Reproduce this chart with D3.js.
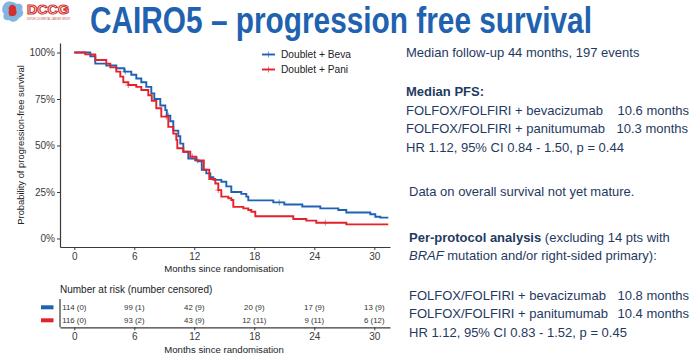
<!DOCTYPE html>
<html><head><meta charset="utf-8">
<script src="https://cdn.jsdelivr.net/npm/d3@7"></script>
<style>
html,body{margin:0;padding:0;background:#fff;}
svg{display:block;font-family:"Liberation Sans",Arial,sans-serif;}
</style></head>
<body>
<svg id="c" width="693" height="357"></svg>
<script>
// ---- data ----
const seriesNames = ["Doublet + Beva", "Doublet + Pani"];
const seriesColors = ["#1f62b4", "#e3222b"];
const bevaTimes = [0,1.6,2.1,3.2,4.2,5.0,5.7,6.2,6.7,7.2,7.7,8.0,8.6,9.1,9.25,9.6,9.9,10.4,10.6,10.9,11.4,12.1,12.4,12.75,13.2,13.6,13.9,14.7,15.2,15.7,16.7,17.2,17.4,19.9,21.0,22.8,24.6,26.4,27.2,29.6,30.1,30.6,31.4];
const bevaSurv  = [100,98,94,93,91.5,89.7,88,86,84,81.5,78,75,71.5,69,66,63,58,55,51,46.6,43,42,41.5,37,35,33,31.5,30.5,28,25,24,22.5,20.5,19.4,18.3,17.2,16.2,15.3,14.0,13.0,11.7,11.2,11.2];
const paniTimes = [0,1.1,2.1,3.2,3.6,4.2,4.6,4.9,5.4,6.2,6.7,7.4,7.75,8.2,8.7,9.4,9.9,10.2,10.3,10.9,11.6,12.2,12.95,13.5,14.1,14.4,14.7,15.4,15.7,15.9,16.9,17.4,17.7,18.1,21.9,23.2,24.2,27.2,31.4];
const paniSurv  = [100,99,96,94,92,89.7,87,84,82.5,81.5,79.8,77,74,70,65.5,60,56.4,53,48.5,46.6,44,42,37,32,29.6,26,22.5,21.6,20.7,17,16.2,15.3,14.4,12.0,10.5,9.6,8.5,7.6,7.6];
const bevaCensor = [5.1, 9.4, 12.3, 20.5];
const paniCensor = [5.4, 9.2, 11.8, 14.4, 25.1];
const monthTicks = [0, 6, 12, 18, 24, 30];
const pctTicks = [0, 25, 50, 75, 100];
const pctLabels = ["0%", "25%", "50%", "75%", "100%"];
const bevaAtRisk = [114, 99, 42, 20, 17, 13];
const bevaCensored = [0, 1, 9, 9, 9, 9];
const paniAtRisk = [116, 93, 43, 12, 9, 6];
const paniCensored = [0, 2, 9, 11, 11, 12];

const svg = d3.select("#c");
const axisCol = "#3a3a3a";
const textCol = "#1f3a5f";

// ---- title + logo ----
const logo = svg.append("g");
logo.append("path").attr("d","M5,3 C9,0 14,2 17,4 C21,3 24,6 22,10 C25,13 22,17 19,18 C17,22 12,23 9,20 C5,21 2,18 4,14 C1,11 2,6 5,3Z")
  .attr("fill","#6fa8dc").attr("opacity",0.85);
logo.append("path").attr("d","M11,5 C14,4 17,7 16,10 C18,13 15,17 12,16 C9,17 8,13 9,10 C8,8 9,6 11,5Z").attr("fill","#d0312d");
logo.append("text").attr("x",27).attr("y",14).attr("font-size",13).attr("font-weight","bold")
  .attr("fill","#fff").attr("stroke","#d0312d").attr("stroke-width",1.1)
  .attr("textLength",42).attr("lengthAdjust","spacingAndGlyphs").text("DCCG");
logo.append("text").attr("x",27).attr("y",19.5).attr("font-size",3.2).attr("fill","#c0392b")
  .attr("textLength",43).attr("lengthAdjust","spacingAndGlyphs").text("DUTCH COLORECTAL CANCER GROUP");

const titleG = svg.append("g").attr("transform","translate(90,33.3) scale(0.817,1)");
const titleT = titleG.append("text").attr("x",0).attr("y",0).attr("font-size",36.5).attr("font-weight","bold")
  .attr("fill","#2062b0").text("CAIRO5 \u2013 progression free survival");
// fit the title width to 502px
const tw = titleT.node().getComputedTextLength();
if (tw > 0) titleG.attr("transform",`translate(90,33.3) scale(${502/tw},1)`);

// ---- KM plot ----
const x = d3.scaleLinear().domain([-1.43, 31.57]).range([60, 390]);
const y = d3.scaleLinear().domain([-0.0457, 1.051]).range([247, 43]);

const gx = svg.append("g").attr("transform","translate(0,247)")
  .call(d3.axisBottom(x).tickValues(monthTicks).tickSize(3).tickPadding(3).tickSizeOuter(0));
const gy = svg.append("g").attr("transform","translate(60,0)")
  .call(d3.axisLeft(y).tickValues(pctTicks.map(d=>d/100)).tickFormat((d,i)=>pctLabels[i]).tickSize(3).tickPadding(2).tickSizeOuter(0));
[gx,gy].forEach(g=>{
  g.select(".domain").attr("stroke",axisCol).attr("stroke-width",1.2);
  g.selectAll(".tick line").attr("stroke",axisCol);
  g.selectAll(".tick text").attr("fill","#3a3a3a").attr("font-size",10).attr("font-family","Liberation Sans, Arial, sans-serif");
});
svg.append("text").attr("x",224).attr("y",272).attr("text-anchor","middle").attr("font-size",9.6).attr("fill","#222")
  .text("Months since randomisation");
svg.append("text").attr("transform","translate(24,145) rotate(-90)").attr("text-anchor","middle")
  .attr("font-size",9.4).attr("fill","#222").text("Probability of progression-free survival");

const line = d3.line().x(d=>x(d[0])).y(d=>y(d[1]/100)).curve(d3.curveStepAfter);
const series = [
  {t:bevaTimes, s:bevaSurv, c:bevaCensor},
  {t:paniTimes, s:paniSurv, c:paniCensor}
];
series.forEach((sr,i)=>{
  const pts = sr.t.map((t,k)=>[t, sr.s[k]]);
  svg.append("path").datum(pts).attr("d",line).attr("fill","none")
    .attr("stroke",seriesColors[i]).attr("stroke-width",1.9);
  sr.c.forEach(ct=>{
    let k = d3.bisectRight(sr.t, ct) - 1;
    const cx = x(ct), cy = y(sr.s[k]/100);
    svg.append("path").attr("d",`M${cx-3},${cy}H${cx+3}M${cx},${cy-3}V${cy+3}`)
      .attr("stroke",seriesColors[i]).attr("stroke-width",1).attr("opacity",0.6);
  });
});

// legend
seriesNames.forEach((n,i)=>{
  const ly = 54.5 + i*15;
  svg.append("line").attr("x1",262).attr("x2",275).attr("y1",ly).attr("y2",ly)
    .attr("stroke",seriesColors[i]).attr("stroke-width",1.9);
  svg.append("path").attr("d",`M268.5,${ly-3}V${ly+3}`).attr("stroke",seriesColors[i]).attr("stroke-width",1).attr("opacity",0.6);
  svg.append("text").attr("x",281).attr("y",ly+3.6).attr("font-size",10.2).attr("fill","#222").text(n);
});

// ---- risk table ----
svg.append("text").attr("x",60).attr("y",293).attr("font-size",10).attr("fill","#222").text("Number at risk (number censored)");
const gx2 = svg.append("g").attr("transform","translate(0,327.3)")
  .call(d3.axisBottom(x).tickValues(monthTicks).tickSize(3).tickPadding(3).tickSizeOuter(0));
gx2.select(".domain").attr("stroke",axisCol).attr("stroke-width",1.2);
gx2.selectAll(".tick line").attr("stroke",axisCol);
gx2.selectAll(".tick text").attr("fill","#3a3a3a").attr("font-size",10).attr("font-family","Liberation Sans, Arial, sans-serif");
svg.append("line").attr("x1",60).attr("x2",60).attr("y1",299).attr("y2",327.3).attr("stroke",axisCol).attr("stroke-width",1.2);
svg.append("text").attr("x",224).attr("y",353).attr("text-anchor","middle").attr("font-size",9.6).attr("fill","#222")
  .text("Months since randomisation");
const riskRows = [[bevaAtRisk,bevaCensored],[paniAtRisk,paniCensored]];
riskRows.forEach((r,i)=>{
  const cy = [307.3,320.3][i];
  svg.append("rect").attr("x",41).attr("y",cy-2).attr("width",12.5).attr("height",4).attr("fill",seriesColors[i]);
  monthTicks.forEach((m,k)=>{
    svg.append("text").attr("x",x(m)).attr("y",cy+2.8).attr("text-anchor","middle")
      .attr("font-size",7.8).attr("fill","#333").text(`${r[0][k]} (${r[1][k]})`);
  });
});

// ---- right-hand text ----
const rt = svg.append("g").attr("font-size",13).attr("fill",textCol);
function addLine(xp, yp, parts){
  const t = rt.append("text").attr("x",xp).attr("y",yp);
  parts.forEach(p=>{
    const ts = t.append("tspan").text(p.s);
    if(p.b) ts.attr("font-weight","bold");
    if(p.i) ts.attr("font-style","italic");
    if(p.x!==undefined) ts.attr("x",p.x);
  });
}
addLine(406,57,[{s:"Median follow-up 44 months, 197 events"}]);
addLine(406,96,[{s:"Median PFS:",b:true}]);
addLine(406,114.5,[{s:"FOLFOX/FOLFIRI + bevacizumab"},{s:"10.6 months",x:617.5}]);
addLine(406,133.2,[{s:"FOLFOX/FOLFIRI + panitumumab"},{s:"10.3 months",x:616.5}]);
addLine(406,151.8,[{s:"HR 1.12, 95% CI 0.84 - 1.50, p = 0.44"}]);
addLine(409,196,[{s:"Data on overall survival not yet mature."}]);
addLine(409,241.7,[{s:"Per-protocol analysis",b:true},{s:" (excluding 14 pts with"}]);
addLine(409,260,[{s:"BRAF",i:true},{s:" mutation and/or right-sided primary):"}]);
addLine(409,300,[{s:"FOLFOX/FOLFIRI + bevacizumab"},{s:"10.8 months",x:617.5}]);
addLine(409,318.3,[{s:"FOLFOX/FOLFIRI + panitumumab"},{s:"10.4 months",x:617.5}]);
addLine(409,336.7,[{s:"HR 1.12, 95% CI 0.83 - 1.52, p = 0.45"}]);
</script>
</body></html>
